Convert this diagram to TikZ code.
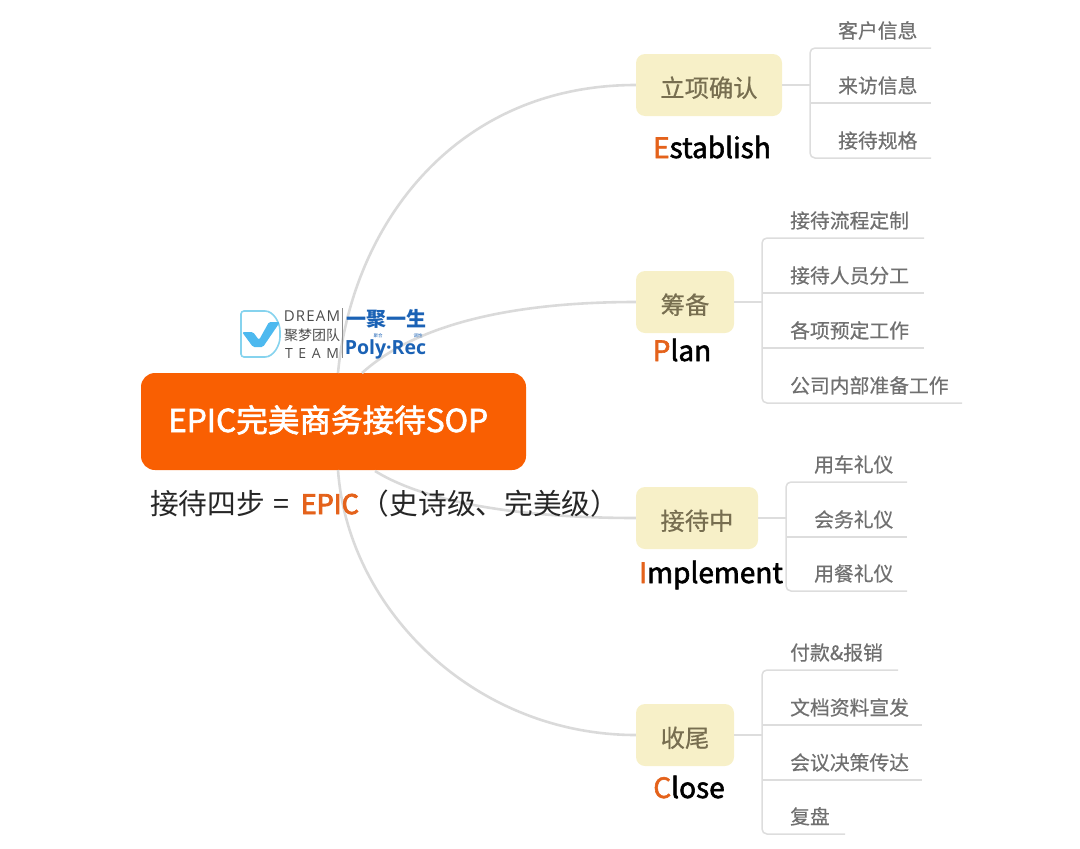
\documentclass[tikz,border=0pt]{standalone}
\usepackage{fontspec}
\setmainfont{Noto Sans CJK SC}
\newfontfamily\medfont[FakeBold=2]{Noto Sans CJK SC}
\newfontfamily\heavyfont[FakeBold=3.2]{Noto Sans CJK SC}
\newfontfamily\softfont[FakeBold=.5]{Noto Sans CJK SC}
\newfontfamily\polyfont{Open Sans}
\newfontfamily\dreamfont[LetterSpace=8]{Open Sans}
\newfontfamily\teamfont[LetterSpace=40]{Open Sans}
\usetikzlibrary{calc,positioning}
\definecolor{rootorange}{HTML}{F95F02}
\definecolor{letterorange}{HTML}{E4621B}
\definecolor{stepfill}{HTML}{F7F0C8}
\definecolor{steptext}{HTML}{776E50}
\definecolor{curvegray}{HTML}{DADADA}
\definecolor{leafgray}{HTML}{DDDDDD}
\definecolor{leaftext}{HTML}{707070}
\definecolor{logoblue}{HTML}{4DB9EF}
\definecolor{logoline}{HTML}{86D3EE}
\definecolor{polyblue}{HTML}{1B62B5}
\tikzset{
 epic root/.style={rectangle,rounded corners=14pt,fill=rootorange,
                   minimum width=385pt,minimum height=97pt,inner sep=0pt},
 epic step/.style={rectangle,rounded corners=9pt,fill=stepfill,text=steptext,
                   minimum height=62pt,inner sep=0pt,text height=24pt,text depth=0pt,
                   font=\softfont\fontsize{24.3}{28}\selectfont},
 epic word/.style={anchor=base,inner sep=0pt,text=black,
                   font=\medfont\fontsize{28}{32}\selectfont},
 epic leaf/.style={anchor=base west,inner sep=0pt,text=leaftext,
                   font=\softfont\fontsize{19.8}{22}\selectfont},
 epic curve/.style={draw=curvegray,line width=2.6pt},
 epic branch/.style={draw=leafgray,line width=1.5pt},
 epic logo/.style={inner sep=0pt,text=black!70}
}
\begin{document}
\begin{tikzpicture}[x=1pt,y=-1pt]
 \useasboundingbox (0,0) rectangle (1080,849);
 \node[epic root] (root) at (333.5,421.5) {};
 \node[anchor=base west,inner sep=0pt,text=white,font=\medfont\fontsize{31.6}{34}\selectfont]
   (rootlabel) at (168,432) {EPIC完美商务接待SOP};
 \foreach \s/\x/\w/\b/\t in {step1/709/146/85/立项确认,step2/685/98/302/筹备,
                             step3/697/122/518/接待中,step4/685/98/735/收尾}{
   \node[epic step,minimum width=\w pt] (\s) at (\x,\b) {\t};
 }
 \node[epic word] (word1) at (712,158) {\textcolor{letterorange}{E}stablish};
 \node[epic word] (word2) at (682,361) {\textcolor{letterorange}{P}lan};
 \node[epic word] (word3) at (711,583) {\textcolor{letterorange}{I}mplement};
 \node[epic word] (word4) at (689,798) {\textcolor{letterorange}{C}lose};
 \coordinate (rootup1) at (338,373);
 \coordinate (rootup2) at (362,373);
 \coordinate (rootdown1) at (375,471);
 \coordinate (rootdown2) at (338,470);
 \draw[epic curve] (rootup1) .. controls (352,225) and (455,85) .. (step1.west);
 \draw[epic curve] (rootup2) .. controls (415,325) and (510,302) .. (step2.west);
 \draw[epic curve] (rootdown1) .. controls (430,505) and (530,518) .. (step3.west);
 \draw[epic curve] (rootdown2) .. controls (348,610) and (475,735) .. (step4.west);
 \foreach \g/\x/\y/\e/\t in {
   a1/810/48/931/客户信息,a2/810/103/931/来访信息,a3/810/158/931/接待规格,
   b1/762/238/924/接待流程定制,b2/762/293/924/接待人员分工,
   b3/762/348/924/各项预定工作,b4/762/403/962/公司内部准备工作,
   c1/786/482/907/用车礼仪,c2/786/537/907/会务礼仪,c3/786/591/907/用餐礼仪,
   d1/762/670/898/付款\&报销,d2/762/725/922/文档资料宣发,
   d3/762/780/922/会议决策传达,d4/762/834/845/复盘}{
   \coordinate (\g s) at (\x,\y);
   \coordinate (\g e) at (\e,\y);
   \node[epic leaf] (\g) at ($(\g s)+(28,-10)$) {\t};
 }
 \foreach \f/\l/\n in {a1/a3/step1,b1/b4/step2,c1/c3/step3,d1/d4/step4}{
   \draw[epic branch,rounded corners=5pt] (\f e) -- (\f s) -- (\l s) -- (\l e);
   \draw[epic branch] (\n.east) -- (\n.east -| \f s);
 }
 \foreach \m in {a2,b2,b3,c2,d2,d3}{\draw[epic branch] (\m s) -- (\m e);}
 \node[anchor=base west,inner sep=0pt,text=black!85,font=\fontsize{28.7}{32}\selectfont]
   (subtitle) at (150,514)
   {接待四步\hspace{2pt} = \hspace{5pt}{\heavyfont\fontsize{27}{32}\selectfont\textcolor{letterorange}{EPIC}}\hspace{2pt}（史诗级、完美级）};
 \draw[logoline,line width=1.6pt,fill=white,rounded corners=3pt]
   (241,311) -- (262,311) to[out=0,in=90] (280,334) to[out=-90,in=0] (262,357)
   -- (241,357) -- cycle;
 \fill[logoblue,rounded corners=1.5pt] (242,332) -- (253,332) -- (259,340) -- (269,322)
   -- (280,322) -- (263,347) -- (253,347) -- cycle;
 \node[epic logo,font=\dreamfont\fontsize{15}{16}\selectfont] (dream) at (312,316) {DREAM};
 \node[epic logo,font=\fontsize{14}{16}\selectfont] (dreamcn) at (312,335) {聚梦团队};
 \node[epic logo,font=\teamfont\fontsize{14}{16}\selectfont] (team) at (312,353) {TEAM};
 \coordinate (logotop) at (342,308);
 \coordinate (logobot) at (342,358);
 \draw[black!45,line width=.8pt] (logotop) -- (logobot);
 \node[inner sep=0pt,text=polyblue,font=\bfseries\fontsize{20}{22}\selectfont]
   (slogan) at (386,319) {一聚一生};
 \node[inner sep=0pt,text=polyblue,font=\polyfont\bfseries\fontsize{19.5}{20}\selectfont]
   (poly) at (385.5,349) {Poly·Rec};
 \node[inner sep=0pt,text=polyblue,font=\fontsize{4.5}{5}\selectfont] (polya) at (378,336) {聚合};
 \node[inner sep=0pt,text=polyblue,font=\fontsize{4.5}{5}\selectfont] (polyb) at (418,336) {调性};
\end{tikzpicture}
\end{document}
